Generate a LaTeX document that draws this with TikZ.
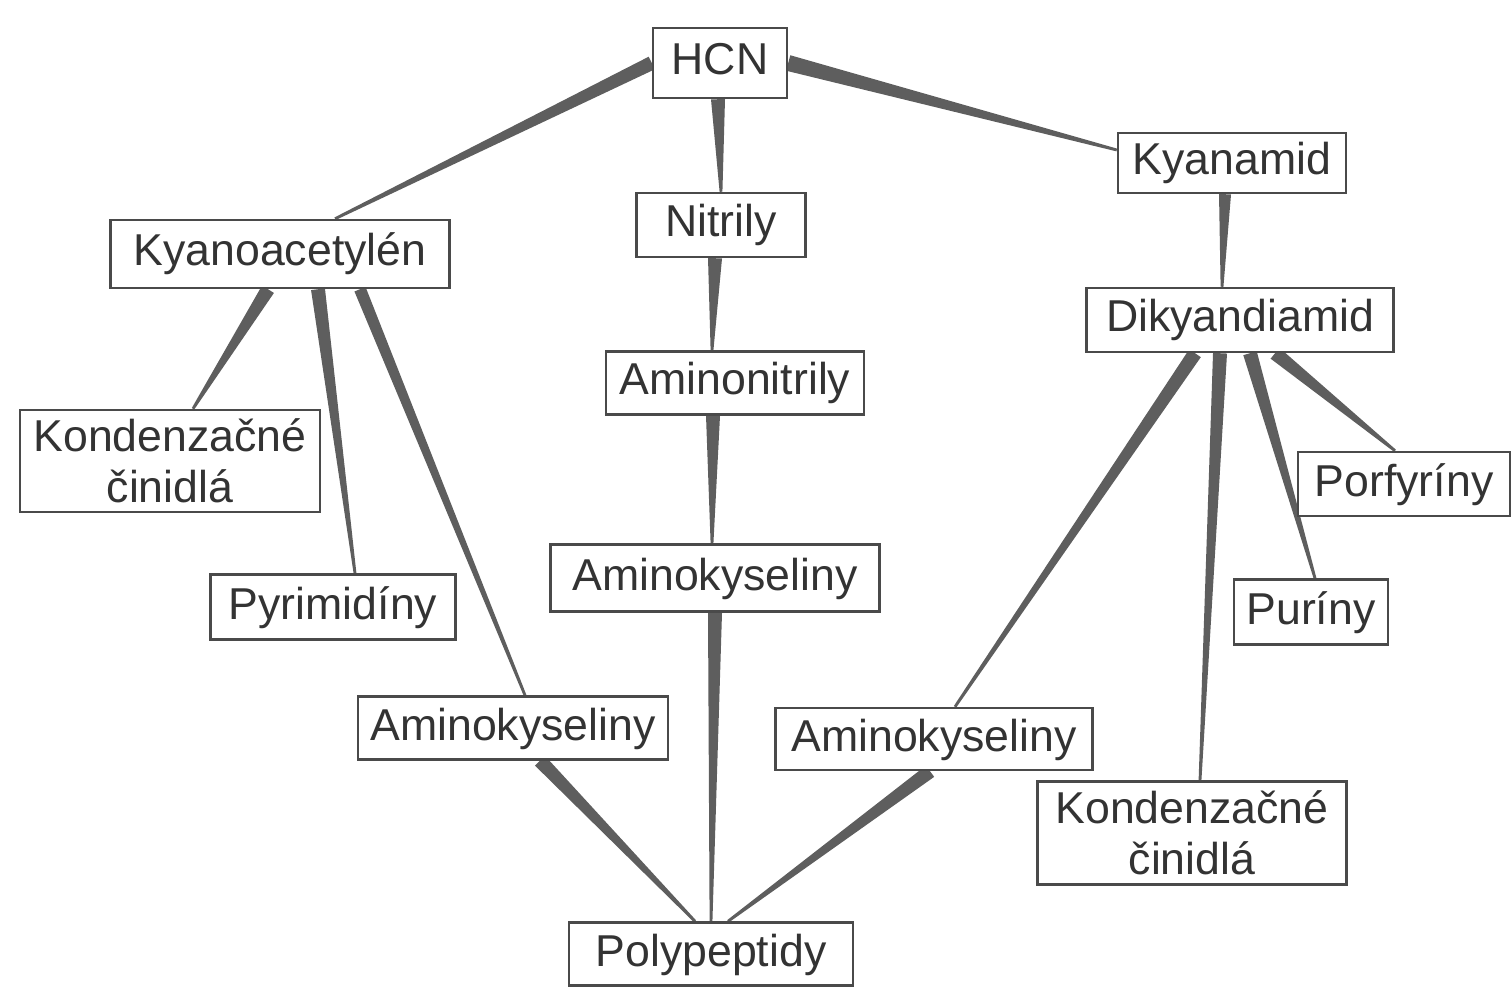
\documentclass[tikz,border=0pt]{standalone}
\usepackage{fontspec}
\setmainfont{Liberation Sans}
\usepackage{xcolor}
\usepackage{tikz}
\usetikzlibrary{calc, backgrounds}
\definecolor{cinkgray}{HTML}{333333}
\definecolor{cwedge}{HTML}{5E5E5E}
\definecolor{cframe}{HTML}{4A4A4A}

\tikzset{
  chembase/.style={draw=cframe, line width=0.7pt, fill=white, text=cinkgray,
    font=\fontsize{12.7}{14.5}\selectfont, inner xsep=0.1cm, inner ysep=0pt,
    align=center, minimum height=0.64cm},
  chembox/.style={chembase, text height=0.33cm, text depth=0.09cm}
}

% tapered link: wide at the first point, narrow at the second
\newcommand{\taper}[3][0.07cm]{%
  \path #2 coordinate (tA) #3 coordinate (tB);
  \fill[cwedge] ($(tA)!#1!90:(tB)$) -- ($(tA)!#1!-90:(tB)$)
    -- ($(tB)!0.4pt!90:(tA)$) -- ($(tB)!0.4pt!-90:(tA)$) -- cycle;
}

\begin{document}
\begin{tikzpicture}[x=1cm, y=1cm]
  \useasboundingbox (0,0) rectangle (15.11,9.87);

  %% top
  \node[chembox, minimum width=1.34cm, minimum height=0.70cm] (hcn) at (7.20,9.24) {HCN};
  \node[chembox, minimum width=2.28cm, minimum height=0.60cm] (kyanamid) at (12.32,8.24) {Kyanamid};
  \node[chembox, minimum width=1.69cm] (nitrily) at (7.21,7.62) {Nitrily};
  \node[chembox, minimum width=3.39cm, minimum height=0.68cm] (kyac) at (2.80,7.33) {Kyanoacetylén};
  \node[chembox, minimum width=3.07cm] (dikyan) at (12.40,6.67) {Dikyandiamid};
  \node[chembox, minimum width=2.58cm, minimum height=0.63cm] (aminonitr) at (7.35,6.04) {Aminonitrily};

  %% middle
  \node[chembase, minimum width=3.00cm, minimum height=1.02cm] (kondL) at (1.70,5.26) {Kondenzačné\\činidlá};
  \node[chembox, minimum width=2.12cm] (porf) at (14.04,5.03) {Porfyríny};
  \node[chembox, minimum width=3.29cm, minimum height=0.67cm] (amkM) at (7.15,4.09) {Aminokyseliny};
  \node[chembox, minimum width=2.45cm, minimum height=0.65cm] (pyrim) at (3.33,3.80) {Pyrimidíny};
  \node[chembox, minimum width=1.54cm, minimum height=0.65cm] (purin) at (13.11,3.75) {Puríny};

  %% bottom
  \node[chembox, minimum width=3.10cm, minimum height=0.63cm] (amkL) at (5.13,2.59) {Aminokyseliny};
  \node[chembox, minimum width=3.17cm, minimum height=0.62cm] (amkR) at (9.34,2.48) {Aminokyseliny};
  \node[chembase, minimum width=3.09cm, minimum height=1.03cm] (kondR) at (11.92,1.54) {Kondenzačné\\činidlá};
  \node[chembox, minimum width=2.84cm, minimum height=0.63cm] (poly) at (7.11,0.33) {Polypeptidy};

  %% links behind the boxes
  \begin{pgfonlayer}{background}
    \taper{(hcn.west)}{([xshift=0.55cm]kyac.north)}
    \taper[0.08cm]{(hcn.east)}{([yshift=0.13cm]kyanamid.west)}
    \taper{([xshift=-0.02cm]hcn.south)}{(nitrily.north)}
    \taper{([xshift=-0.06cm]nitrily.south)}{([xshift=-0.23cm]aminonitr.north)}
    \taper{([xshift=-0.22cm]aminonitr.south)}{([xshift=-0.03cm]amkM.north)}
    \taper{(amkM.south)}{(poly.north)}
    \taper[0.06cm]{([xshift=-0.07cm]kyanamid.south)}{([xshift=-0.18cm]dikyan.north)}
    \taper{([xshift=-0.12cm]kyac.south)}{([xshift=0.23cm]kondL.north)}
    \taper{([xshift=0.38cm]kyac.south)}{([xshift=0.22cm]pyrim.north)}
    \taper[0.06cm]{([xshift=0.80cm]kyac.south)}{([xshift=0.12cm]amkL.north)}
    \taper{([xshift=0.27cm]amkL.south)}{([xshift=-0.16cm]poly.north)}
    \taper{([xshift=-0.45cm]dikyan.south)}{([xshift=0.21cm]amkR.north)}
    \taper{([xshift=-0.04cm]amkR.south)}{([xshift=0.17cm]poly.north)}
    \taper{([xshift=-0.20cm]dikyan.south)}{([xshift=0.08cm]kondR.north)}
    \taper{([xshift=0.10cm]dikyan.south)}{([xshift=0.04cm]purin.north)}
    \taper{([xshift=0.35cm]dikyan.south)}{([xshift=-0.09cm]porf.north)}
  \end{pgfonlayer}

\end{tikzpicture}
\end{document}
